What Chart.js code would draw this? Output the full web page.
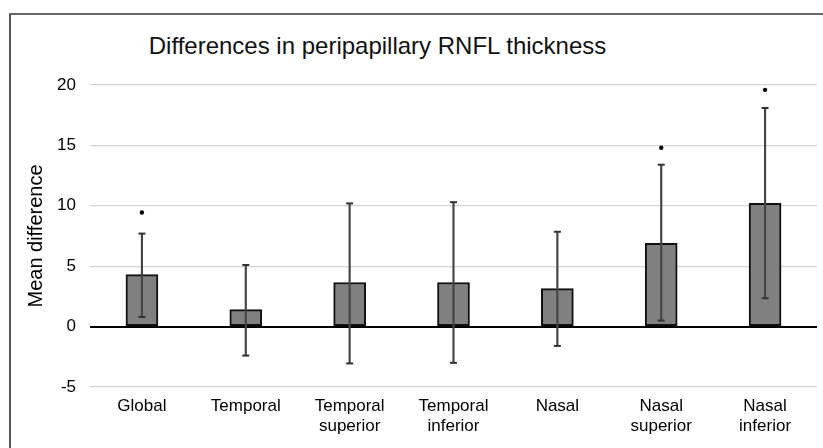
<!DOCTYPE html>
<html>
<head>
<meta charset="utf-8">
<script src="https://cdn.jsdelivr.net/npm/chart.js@4"></script>
<style>
    html, body { margin: 0; padding: 0; background: #fff; overflow: hidden; }
    #wrap { position: relative; width: 823px; height: 448px; }
    #frame {
        position: absolute; left: 9px; top: 13px; width: 830px; height: 460px;
        border-left: 2px solid #555; border-top: 2px solid #666;
    }
    #title {
        position: absolute; left: 0; top: 34px; width: 755px; text-align: center;
        font-family: "Liberation Sans", Arial, sans-serif; font-size: 24px; line-height: 24px; color: #111;
    }
    canvas { position: absolute; left: 0; top: 0; }
</style>
</head>
<body>
<div id="wrap">
    <div id="frame"></div>
    <div id="title">Differences in peripapillary RNFL thickness</div>
    <canvas id="chart" width="823" height="448"></canvas>
</div>
<script>
// カテゴリ
const categories = [
    'Global',
    'Temporal',
    ['Temporal', 'superior'],
    ['Temporal', 'inferior'],
    'Nasal',
    ['Nasal', 'superior'],
    ['Nasal', 'inferior']
];

// 平均差
const meanDiff = [4.3, 1.4, 3.65, 3.65, 3.15, 6.9, 10.2];

// エラーバー（下限・上限）
const ciLow = [0.8, -2.4, -3.05, -3.0, -1.6, 0.5, 2.35];
const ciHigh = [7.7, 5.1, 10.2, 10.3, 7.85, 13.4, 18.1];

// 有意差マーク
const sigMark = [9.45, null, null, null, null, 14.8, 19.6];

// Y軸の目盛り
const yMin = -5;
const yMax = 20;
const yStep = 5;

const font = 'Liberation Sans';

const whiskers = ciLow.map((lo, i) => [lo, ciHigh[i]]);

new Chart(document.getElementById('chart'), {
    type: 'bar',
    data: {
        labels: categories,
        datasets: [
            {
                label: 'sig',
                type: 'line',
                data: sigMark,
                showLine: false,
                pointStyle: 'circle',
                pointRadius: 2.2,
                pointBackgroundColor: '#000',
                pointBorderWidth: 0,
                order: 0
            },
            {
                label: 'capHigh',
                type: 'line',
                data: ciHigh,
                showLine: false,
                pointStyle: 'line',
                pointRadius: 3.5,
                pointBorderColor: '#333',
                pointBorderWidth: 2,
                order: 1
            },
            {
                label: 'capLow',
                type: 'line',
                data: ciLow,
                showLine: false,
                pointStyle: 'line',
                pointRadius: 3.5,
                pointBorderColor: '#333',
                pointBorderWidth: 2,
                order: 1
            },
            {
                label: 'whisker',
                data: whiskers,
                backgroundColor: '#444',
                borderWidth: 0,
                barThickness: 1.5,
                grouped: false,
                order: 2
            },
            {
                label: 'Mean difference',
                data: meanDiff,
                backgroundColor: '#808080',
                borderColor: '#111',
                borderWidth: 2,
                borderSkipped: false,
                barThickness: 32,
                grouped: false,
                order: 3
            }
        ]
    },
    options: {
        responsive: false,
        animation: false,
        layout: { padding: { top: 85, right: 5, left: 0, bottom: 0 } },
        plugins: {
            legend: { display: false },
            tooltip: { enabled: false },
            title: { display: false }
        },
        scales: {
            x: {
                grid: { display: false, drawTicks: false },
                border: { display: false },
                ticks: {
                    color: '#000',
                    padding: 9,
                    maxRotation: 0,
                    autoSkip: false,
                    font: { family: font, size: 17, lineHeight: 1.2 }
                },
                afterFit: (scale) => { scale.height = 61; }
            },
            y: {
                min: yMin,
                max: yMax,
                border: { display: false },
                grid: {
                    drawTicks: false,
                    color: (ctx) => ctx.tick && ctx.tick.value === 0 ? '#000' : '#d4d4d4',
                    lineWidth: (ctx) => ctx.tick && ctx.tick.value === 0 ? 2 : 1.2
                },
                ticks: {
                    stepSize: yStep,
                    color: '#000',
                    padding: 14,
                    font: { family: font, size: 17 }
                },
                title: {
                    display: true,
                    text: 'Mean difference',
                    color: '#000',
                    font: { family: font, size: 20 },
                    padding: { top: 24, bottom: 0 }
                },
                afterFit: (scale) => { scale.width = 90; }
            }
        }
    }
});
</script>
</body>
</html>
